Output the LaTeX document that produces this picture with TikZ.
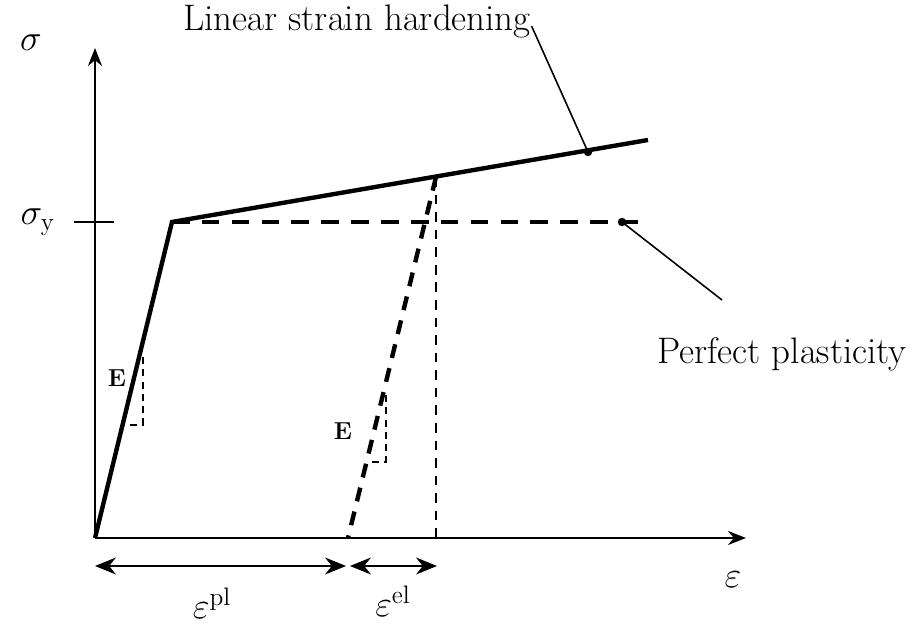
\documentclass[tikz,border=0pt]{standalone}
\usepackage{amsmath,amssymb}
\usepackage{tikz}
\usetikzlibrary{arrows.meta,positioning}

\begin{document}
\begin{tikzpicture}[x=0.02cm,y=-0.02cm, every node/.style={font=\fontsize{21}{25}\selectfont},
  axis/.style={line width=1.3pt,-{Stealth[length=3.6mm,width=2.8mm]}},
  law/.style={line width=2.5pt},
  unload/.style={line width=2.5pt,dash pattern=on 8pt off 6pt},
  guide/.style={line width=1.1pt,dash pattern=on 5.5pt off 4.5pt},
  slope/.style={line width=0.9pt,dash pattern=on 4pt off 3pt},
  dim/.style={line width=1.1pt,{Stealth[length=4.2mm,width=3.4mm]}-{Stealth[length=4.2mm,width=3.4mm]}},
  lead/.style={line width=0.9pt},
  dot/.style={circle,fill,inner sep=0pt,minimum size=4.8pt},
  lbl/.style={font=\fontsize{14}{16}\selectfont\bfseries}]
\useasboundingbox (0,0) rectangle (914,624);
% axes
\coordinate (O) at (95,538);
\coordinate (ytip) at (95,48);
\coordinate (xtip) at (746,538);
\draw[axis] (O) -- (ytip);
\draw[axis] (O) -- (xtip);
\node (sig) at (31,43) {$\sigma$};
\node (eps) at (733,580) {$\varepsilon$};
\node (sigy) at (38,222) {$\sigma_{\mathrm{y}}$};
\coordinate (tickl) at (74,222);
\coordinate (tickr) at (114,222);
\draw[line width=1.1pt] (tickl) -- (tickr);
% material laws
\coordinate (Y) at (172,222);
\coordinate (Hend) at (648,140);
\coordinate (Pend) at (648,222);
\coordinate (U) at (436,177);
\coordinate (Upl) at (348,538);
\coordinate (Uel) at (436,538);
\draw[law] (O) -- (Y) -- (Hend);
\draw[line width=1.8pt,dash pattern=on 10pt off 7pt] (Y) -- (Pend);
\draw[unload] (U) -- (Upl);
\draw[guide] (U) -- (Uel);
% slope triangles
\coordinate (e1a) at (143,357);
\coordinate (e1b) at (143,425);
\coordinate (e1c) at (124,425);
\draw[slope] (e1a) -- (e1b) -- (e1c);
\node[lbl] (E1) at (117,378) {E};
\coordinate (e2a) at (386,395);
\coordinate (e2b) at (386,462);
\coordinate (e2c) at (368,462);
\draw[slope] (e2a) -- (e2b) -- (e2c);
\node[lbl] (E2) at (343,431) {E};
% labels with leaders
\node[dot] (hdot) at (588,152) {};
\node[dot] (pdot) at (622,222) {};
\node (lsh) at (357,21) {Linear strain hardening};
\node (pp) at (782,354) {Perfect plasticity};
\coordinate (ppend) at (722,300);
\draw[lead] ([xshift=-3pt,yshift=-3pt]lsh.east) -- (hdot.center);
\draw[lead] (pdot.center) -- (ppend);
% strain components
\coordinate (d0) at (95,566);
\coordinate (d1) at (346,566);
\coordinate (d2) at (350,566);
\coordinate (d3) at (437,566);
\draw[dim] (d0) -- (d1);
\draw[dim] (d2) -- (d3);
\node (epl) at (212,603) {$\varepsilon^{\mathrm{pl}}$};
\node (eel) at (393,601) {$\varepsilon^{\mathrm{el}}$};
\end{tikzpicture}
\end{document}
